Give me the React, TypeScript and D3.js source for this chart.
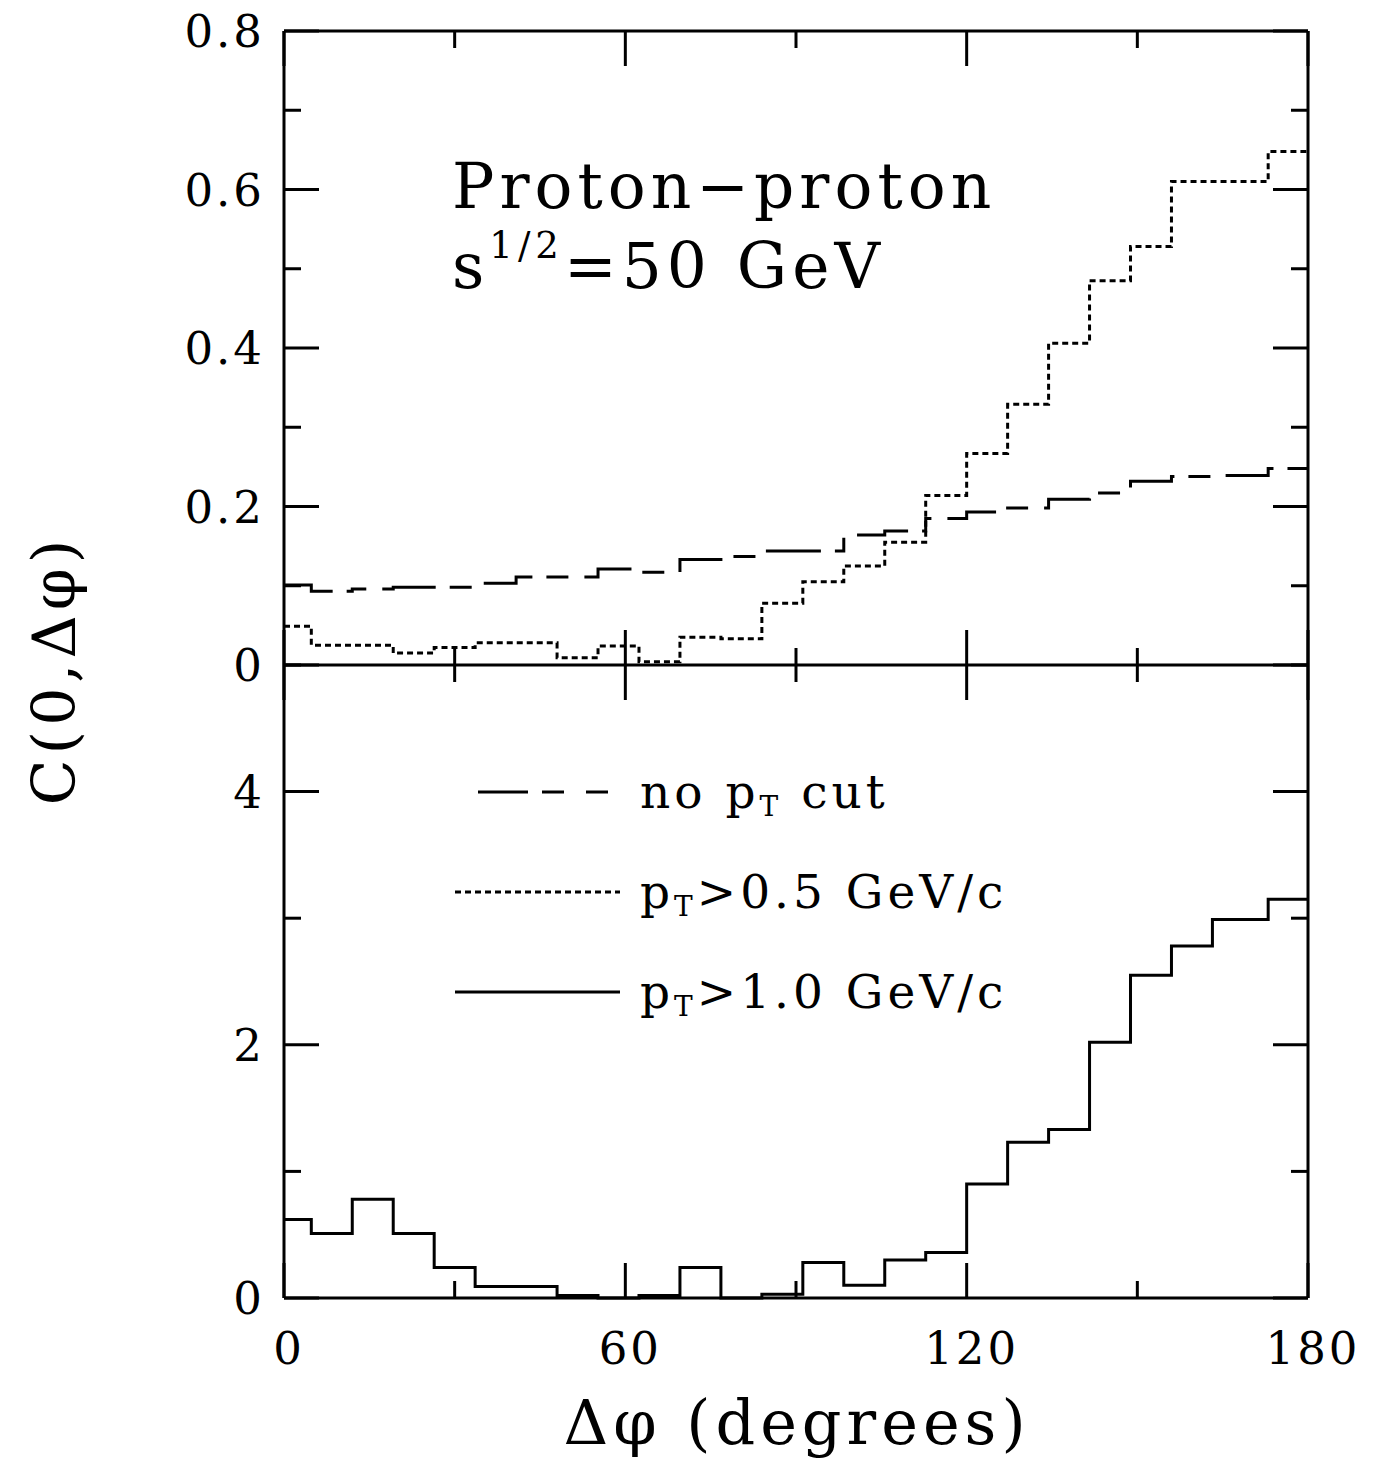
import * as d3 from "d3";

// bin edges in degrees (25 bins)
const binEdges = [0, 4.8, 12, 19.2, 26.4, 33.6, 40.8, 48, 55.2, 62.4, 69.6, 76.8, 84, 91.2, 98.4, 105.6, 112.8, 120, 127.2, 134.4, 141.6, 148.8, 156, 163.2, 173, 180];

// top panel: C(0,Δφ), all pT
const noCut = [0.101, 0.093, 0.096, 0.098, 0.098, 0.103, 0.111, 0.111, 0.121, 0.117, 0.133, 0.137, 0.144, 0.144, 0.164, 0.169, 0.185, 0.193, 0.198, 0.209, 0.217, 0.232, 0.238, 0.239, 0.248];
// top panel: pT > 0.5 GeV/c
const pt05 = [0.049, 0.025, 0.025, 0.015, 0.022, 0.028, 0.028, 0.009, 0.024, 0.004, 0.035, 0.033, 0.078, 0.105, 0.125, 0.155, 0.214, 0.267, 0.329, 0.406, 0.485, 0.528, 0.61, 0.61, 0.648];
// bottom panel: pT > 1.0 GeV/c
const pt10 = [0.62, 0.51, 0.78, 0.51, 0.24, 0.09, 0.09, 0.02, 0.0, 0.02, 0.24, 0.0, 0.03, 0.28, 0.1, 0.3, 0.36, 0.9, 1.23, 1.33, 2.02, 2.55, 2.78, 2.99, 3.15];

const xTicks = [0, 60, 120, 180];
const xMinor = [30, 90, 150];
const topTicks = [0, 0.2, 0.4, 0.6, 0.8];
const topMinor = [0.1, 0.3, 0.5, 0.7];
const botTicks = [0, 2, 4];
const botMinor = [1, 3, 5];

const W = 1375;
const H = 1468;
const FONT = "'DejaVu Serif', 'Liberation Serif', serif";

const x = d3.scaleLinear().domain([0, 180]).range([284, 1308]);
const yTop = d3.scaleLinear().domain([0, 0.8]).range([665, 31]);
const yBot = d3.scaleLinear().domain([0, 5]).range([1298, 665]);

function stepPath(vals: number[], y: d3.ScaleLinear<number, number>) {
  const pts: [number, number][] = vals.map((v, i) => [binEdges[i], v]);
  pts.push([binEdges[binEdges.length - 1], vals[vals.length - 1]]);
  const line = d3
    .line<[number, number]>()
    .x((d) => x(d[0]))
    .y((d) => y(d[1]))
    .curve(d3.curveStepAfter);
  return line(pts) || "";
}

const MAJ = 35;
const MIN = 17;

export default function App() {
  const x0 = x(0);
  const x1 = x(180);
  const yMid = yTop(0);
  const yTopEdge = yTop(0.8);
  const yBotEdge = yBot(0);

  return (
    <svg
      width={W}
      height={H}
      style={{ position: "absolute", left: 0, top: 0, background: "#fff" }}
      fontFamily={FONT}
    >
      <rect width={W} height={H} fill="#fff" />
      {/* frame */}
      <g stroke="#000" strokeWidth={3} fill="none">
        <line x1={x0} x2={x0} y1={yTopEdge} y2={yBotEdge} />
        <line x1={x1} x2={x1} y1={yTopEdge} y2={yBotEdge} />
        <line x1={x0} x2={x1} y1={yTopEdge} y2={yTopEdge} />
        <line x1={x0} x2={x1} y1={yMid} y2={yMid} />
        <line x1={x0} x2={x1} y1={yBotEdge} y2={yBotEdge} />
      </g>

      {/* x ticks on top, middle, bottom */}
      <g stroke="#000" strokeWidth={3}>
        {xTicks.concat(xMinor).map((t) => {
          const len = xMinor.includes(t) ? MIN : MAJ;
          const px = x(t);
          return (
            <g key={"xt" + t}>
              <line x1={px} x2={px} y1={yTopEdge} y2={yTopEdge + len} />
              <line x1={px} x2={px} y1={yMid - len} y2={yMid + len} />
              <line x1={px} x2={px} y1={yBotEdge - len} y2={yBotEdge} />
            </g>
          );
        })}
        {topTicks.concat(topMinor).map((t) => {
          const len = topMinor.includes(t) ? MIN : MAJ;
          const py = yTop(t);
          return (
            <g key={"yt" + t}>
              <line x1={x0} x2={x0 + len} y1={py} y2={py} />
              <line x1={x1 - len} x2={x1} y1={py} y2={py} />
            </g>
          );
        })}
        {botTicks.concat(botMinor).map((t) => {
          const len = botMinor.includes(t) ? MIN : MAJ;
          const py = yBot(t);
          return (
            <g key={"yb" + t}>
              <line x1={x0} x2={x0 + len} y1={py} y2={py} />
              <line x1={x1 - len} x2={x1} y1={py} y2={py} />
            </g>
          );
        })}
      </g>

      {/* tick labels */}
      <g fontSize={45} textAnchor="end" fill="#000" letterSpacing={3}>
        {topTicks.map((t) => (
          <text key={"lt" + t} x={265} y={yTop(t)} dy="0.36em">
            {t === 0 ? "0" : t.toFixed(1)}
          </text>
        ))}
        {botTicks.map((t) => (
          <text key={"lb" + t} x={265} y={yBot(t)} dy="0.36em">
            {String(t)}
          </text>
        ))}
      </g>
      <g fontSize={45} textAnchor="middle" fill="#000" letterSpacing={3}>
        {xTicks.map((t) => (
          <text key={"lx" + t} x={x(t) + 5} y={1364}>
            {String(t)}
          </text>
        ))}
      </g>

      {/* axis titles */}
      <text x={797} y={1444} fontSize={62} textAnchor="middle" letterSpacing={5}>
        Δφ  (degrees)
      </text>
      <text
        transform="translate(75,670) rotate(-90)"
        fontSize={60}
        textAnchor="middle"
        letterSpacing={5}
      >
        C(0,Δφ)
      </text>

      {/* histograms */}
      <path d={stepPath(noCut, yTop)} fill="none" stroke="#000" strokeWidth={3} strokeDasharray="55 14 22 16" />
      <path d={stepPath(pt05, yTop)} fill="none" stroke="#000" strokeWidth={3} strokeDasharray="6 4" />
      <path d={stepPath(pt10, yBot)} fill="none" stroke="#000" strokeWidth={3} />

      {/* annotation */}
      <g letterSpacing={5}>
        <text x={452} y={208} fontSize={63}>
          Proton−proton
        </text>
        <text x={452} y={288} fontSize={63}>
          s<tspan fontSize={37} dy={-30}>1/2</tspan>
          <tspan dy={30}>=50 GeV</tspan>
        </text>
      </g>

      {/* legend */}
      <g stroke="#000" strokeWidth={3}>
        <line x1={478} x2={620} y1={792} y2={792} strokeDasharray="50 14 22 22 22" />
        <line x1={455} x2={620} y1={892} y2={892} strokeDasharray="6 4" />
        <line x1={455} x2={620} y1={992} y2={992} />
      </g>
      <g fontSize={47} fill="#000" letterSpacing={4}>
        <text x={640} y={808}>
          no p<tspan fontSize={28} dy={8}>T</tspan>
          <tspan dy={-8}> cut</tspan>
        </text>
        <text x={640} y={908}>
          p<tspan fontSize={28} dy={8}>T</tspan>
          <tspan dy={-8}>&gt;0.5 GeV/c</tspan>
        </text>
        <text x={640} y={1008}>
          p<tspan fontSize={28} dy={8}>T</tspan>
          <tspan dy={-8}>&gt;1.0 GeV/c</tspan>
        </text>
      </g>
    </svg>
  );
}
